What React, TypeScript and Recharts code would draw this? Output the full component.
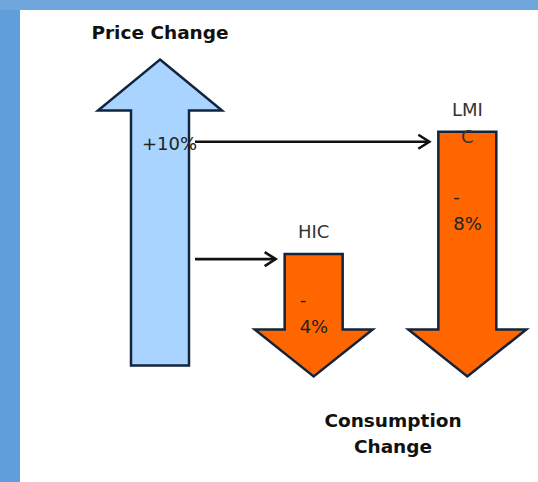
import React from 'react';
import { BarChart, Bar, XAxis, YAxis, Customized } from 'recharts';

// price and consumption changes, in percent
const CATEGORIES = ['Price', 'HIC', 'LMIC'];
const CHANGES = [10, -4, -8];
const PRICE_TITLE = 'Price Change';
const CONSUMPTION_TITLE = ['Consumption', 'Change'];

const W = 538;
const H = 482;
const CHART_W = 546;
const MARGIN = { top: 29, right: 2, bottom: 86, left: 83 };
const STEP = (CHART_W - MARGIN.left - MARGIN.right) / CATEGORIES.length;
// consumption arrows all end a little below the price arrow's base
const CONS_FLOOR = -0.36;

const FONT = '"DejaVu Sans", sans-serif';
const STROKE = '#13243d';
const UP_FILL = '#a8d4ff';
const DOWN_FILL = '#ff6600';
const CONNECTOR_DY: Record<string, number> = { HIC: 5, LMIC: 10 };
const VALUE_DY: Record<string, number> = { HIC: 52, LMIC: 71 };

const rows = CATEGORIES.map((name, i) => {
  const v = CHANGES[i];
  return {
    name,
    change: v,
    range: v > 0 ? [0, v] : [CONS_FLOOR, CONS_FLOOR - v],
  };
});

const ArrowShape = (props: any) => {
  const { x, y, width, height, payload } = props;
  const top = Math.min(y, y + height);
  const bottom = Math.max(y, y + height);
  const cx = x + width / 2;
  const up = payload.change > 0;
  const idx = CATEGORIES.indexOf(payload.name);

  if (up) {
    const hh = 51;
    const hw = 62;
    const d = `M${cx},${top} L${cx + hw},${top + hh} L${x + width},${top + hh} L${x + width},${bottom} L${x},${bottom} L${x},${top + hh} L${cx - hw},${top + hh} Z`;
    return (
      <g>
        <path d={d} fill={UP_FILL} stroke={STROKE} strokeWidth={2.5} strokeLinejoin="miter" />
        <text x={cx} y={top - 21} textAnchor="middle" fontFamily={FONT} fontWeight="bold" fontSize={18.5} fill="#111">
          {PRICE_TITLE}
        </text>
        <text x={x + 11} y={top + 90} fontFamily={FONT} fontSize={18} fill="#222">
          {`+${payload.change}%`}
        </text>
      </g>
    );
  }

  const hh = 47;
  const hw = 59;
  const d = `M${x},${top} L${x + width},${top} L${x + width},${bottom - hh} L${cx + hw},${bottom - hh} L${cx},${bottom} L${cx - hw},${bottom - hh} L${x},${bottom - hh} Z`;
  const startX = cx - idx * STEP + 35;
  const tipX = x - 9;
  const cy = top + (CONNECTOR_DY[payload.name] ?? 8);
  const name: string = payload.name;
  const nameLines = name.length > 3 ? [name.slice(0, 3), name.slice(3)] : [name];
  const vy = top + (VALUE_DY[payload.name] ?? 60);
  return (
    <g>
      <path d={d} fill={DOWN_FILL} stroke={STROKE} strokeWidth={2.5} strokeLinejoin="miter" />
      <line x1={startX} y1={cy} x2={tipX} y2={cy} stroke="#111" strokeWidth={2.6} />
      <path d={`M${tipX - 11},${cy - 7} L${tipX},${cy} L${tipX - 11},${cy + 7}`} fill="none" stroke="#111" strokeWidth={2.6} />
      {nameLines.map((t, i) => (
        <text key={t} x={cx} y={top - 16 + i * 27} textAnchor="middle" fontFamily={FONT} fontSize={18} fill="#333">
          {t}
        </text>
      ))}
      <text x={x + 15} y={vy} fontFamily={FONT} fontSize={18} fill="#222">-</text>
      <text x={x + 15} y={vy + 27} fontFamily={FONT} fontSize={18} fill="#222">
        {`${Math.abs(payload.change)}%`}
      </text>
    </g>
  );
};

const ConsumptionTitle = () => (
  <g>
    {CONSUMPTION_TITLE.map((t, i) => (
      <text key={t} x={393} y={427 + i * 26} textAnchor="middle" fontFamily={FONT} fontWeight="bold" fontSize={18.5} fill="#111">
        {t}
      </text>
    ))}
  </g>
);

export default function App() {
  return (
    <div style={{ position: 'absolute', left: 0, top: 0, width: W, height: H, overflow: 'hidden', background: '#6fa6dc' }}>
      <div style={{ position: 'absolute', left: 0, top: 10, width: 20, bottom: 0, background: '#5f9edb' }} />
      <div style={{ position: 'absolute', left: 20, top: 10, right: 0, bottom: 0, background: '#ffffff' }} />
      <div style={{ position: 'absolute', left: 0, top: 0 }}>
        <BarChart width={CHART_W} height={H} data={rows} margin={MARGIN} barSize={58}>
          <XAxis dataKey="name" hide />
          <YAxis type="number" domain={[-1, 11]} hide />
          <Bar dataKey="range" shape={<ArrowShape />} isAnimationActive={false} />
          <Customized component={<ConsumptionTitle />} />
        </BarChart>
      </div>
    </div>
  );
}
